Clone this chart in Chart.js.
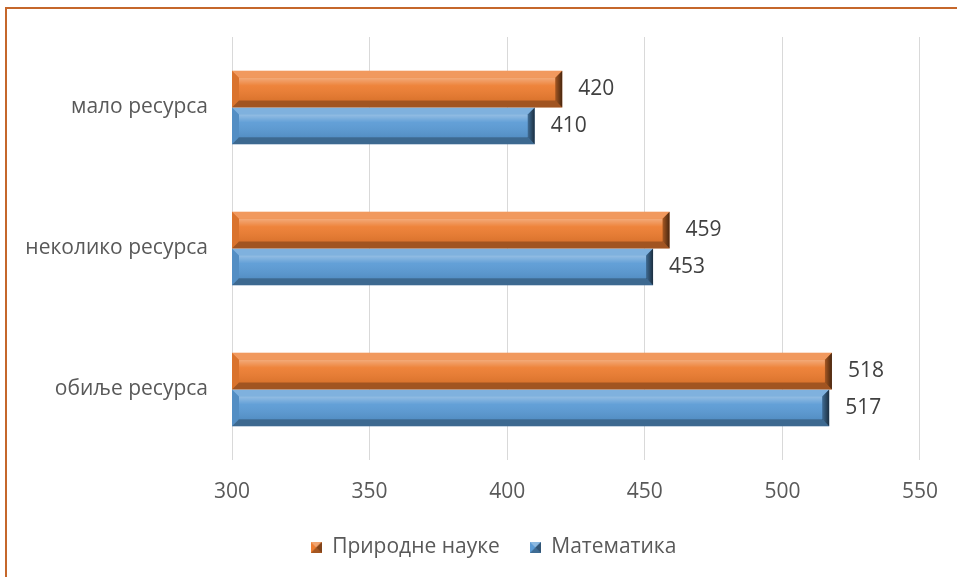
<!DOCTYPE html>
<html>
<head>
<meta charset="utf-8">
<script src="https://cdn.jsdelivr.net/npm/chart.js@4.4.1/dist/chart.umd.min.js"></script>
<style>
  body { margin: 0; background: #fff; overflow: hidden; }
  #wrap { position: relative; width: 957px; height: 577px; }
  #frame { position: absolute; left: 5px; top: 7px; width: 1000px; height: 1000px;
           border-left: 2px solid #C5672B; border-top: 2px solid #C5672B; }
  canvas { position: absolute; left: 0; top: 0; }
</style>
</head>
<body>
<div id="wrap">
  <div id="frame"></div>
  <canvas id="barChart" width="957" height="577"></canvas>
</div>
<script>
// data
const categories = ["мало ресурса", "неколико ресурса", "обиље ресурса"];
const seriesNames = ["Природне науке", "Математика"];
const scienceValues = [420, 459, 518];
const mathValues = [410, 453, 517];
const xTicks = [300, 350, 400, 450, 500, 550];

const FONT = "'Open Sans', 'Noto Sans', sans-serif";
const ORANGE = "#ED7D31";
const BLUE = "#5B9BD5";

// little bevelled square for the legend
function bevelBox(color) {
  const c = document.createElement("canvas");
  c.width = 11; c.height = 11;
  const g = c.getContext("2d");
  g.fillStyle = color;
  g.fillRect(0, 0, 11, 11);
  g.fillStyle = "rgba(255,255,255,0.3)";
  g.beginPath(); g.moveTo(0, 0); g.lineTo(11, 0); g.lineTo(5.5, 5.5); g.closePath(); g.fill();
  g.fillStyle = "rgba(0,0,0,0.45)";
  g.beginPath(); g.moveTo(11, 0); g.lineTo(11, 11); g.lineTo(5.5, 5.5); g.closePath(); g.fill();
  g.fillStyle = "rgba(0,0,0,0.3)";
  g.beginPath(); g.moveTo(0, 11); g.lineTo(11, 11); g.lineTo(5.5, 5.5); g.closePath(); g.fill();
  return c;
}

// bevel look on top of each bar
const bevelPlugin = {
  id: "bevel",
  afterDatasetsDraw(chart) {
    const ctx = chart.ctx;
    const area = chart.chartArea;
    chart.data.datasets.forEach((ds, i) => {
      const meta = chart.getDatasetMeta(i);
      meta.data.forEach((bar) => {
        const l = Math.max(Math.min(bar.base, bar.x), area.left);
        const r = Math.max(bar.base, bar.x);
        const t = bar.y - bar.height / 2, b = bar.y + bar.height / 2;
        const e = 7;
        ctx.save();
        // face highlight
        const gr = ctx.createLinearGradient(0, t + e, 0, b - e);
        gr.addColorStop(0, "rgba(255,255,255,0.35)");
        gr.addColorStop(0.35, "rgba(255,255,255,0.05)");
        gr.addColorStop(1, "rgba(0,0,0,0.08)");
        ctx.fillStyle = gr;
        ctx.fillRect(l + e, t + e, r - l - 2 * e, b - t - 2 * e);
        // top
        ctx.fillStyle = "rgba(255,255,255,0.22)";
        ctx.beginPath(); ctx.moveTo(l, t); ctx.lineTo(r, t); ctx.lineTo(r - e, t + e); ctx.lineTo(l + e, t + e); ctx.closePath(); ctx.fill();
        // bottom
        ctx.fillStyle = "rgba(0,0,0,0.32)";
        ctx.beginPath(); ctx.moveTo(l, b); ctx.lineTo(r, b); ctx.lineTo(r - e, b - e); ctx.lineTo(l + e, b - e); ctx.closePath(); ctx.fill();
        // left
        ctx.fillStyle = "rgba(0,0,0,0.08)";
        ctx.beginPath(); ctx.moveTo(l, t); ctx.lineTo(l + e, t + e); ctx.lineTo(l + e, b - e); ctx.lineTo(l, b); ctx.closePath(); ctx.fill();
        // right
        const rg = ctx.createLinearGradient(r - e, 0, r, 0);
        rg.addColorStop(0, "rgba(0,0,0,0.3)");
        rg.addColorStop(1, "rgba(0,0,0,0.7)");
        ctx.fillStyle = rg;
        ctx.beginPath(); ctx.moveTo(r, t); ctx.lineTo(r - e, t + e); ctx.lineTo(r - e, b - e); ctx.lineTo(r, b); ctx.closePath(); ctx.fill();
        ctx.restore();
      });
    });
  }
};

// value labels at bar ends
const valueLabels = {
  id: "valueLabels",
  afterDatasetsDraw(chart) {
    const ctx = chart.ctx;
    ctx.save();
    ctx.font = "21px " + FONT;
    ctx.fillStyle = "#404040";
    ctx.textAlign = "left";
    ctx.textBaseline = "middle";
    chart.data.datasets.forEach((ds, i) => {
      chart.getDatasetMeta(i).data.forEach((bar, j) => {
        ctx.fillText(String(ds.data[j]), bar.x + 16, bar.y);
      });
    });
    ctx.restore();
  }
};

// the legend in the original is centred a bit right of the canvas middle
const legendShift = {
  id: "legendShift",
  afterLayout(chart) {
    if (chart.legend) {
      chart.legend.left += 66;
      chart.legend.right += 0;
    }
  }
};

new Chart(document.getElementById("barChart"), {
  type: "bar",
  data: {
    labels: categories,
    datasets: [
      { label: seriesNames[0], data: scienceValues, backgroundColor: ORANGE, pointStyle: bevelBox(ORANGE) },
      { label: seriesNames[1], data: mathValues, backgroundColor: BLUE, pointStyle: bevelBox(BLUE) }
    ]
  },
  options: {
    indexAxis: "y",
    responsive: false,
    animation: false,
    layout: { padding: { top: 37, right: 36, left: 0, bottom: 9 } },
    datasets: { bar: { categoryPercentage: 0.52, barPercentage: 1 } },
    scales: {
      x: {
        min: 300,
        max: 550,
        afterBuildTicks: (s) => { s.ticks = xTicks.map((v) => ({ value: v })); },
        afterFit: (s) => { s.height = 47; },
        grid: { color: "#D9D9D9", drawTicks: false },
        border: { display: false },
        ticks: { color: "#595959", font: { family: FONT, size: 21 }, padding: 19 }
      },
      y: {
        afterFit: (s) => { s.width = 232; },
        grid: { display: false },
        border: { display: false },
        ticks: { color: "#595959", font: { family: FONT, size: 21 }, padding: 16 }
      }
    },
    plugins: {
      legend: {
        position: "bottom",
        labels: {
          usePointStyle: true,
          color: "#595959",
          font: { family: FONT, size: 21 },
          boxWidth: 11,
          boxHeight: 11,
          padding: 30
        }
      },
      tooltip: { enabled: false }
    }
  },
  plugins: [bevelPlugin, valueLabels, legendShift]
});
</script>
</body>
</html>
